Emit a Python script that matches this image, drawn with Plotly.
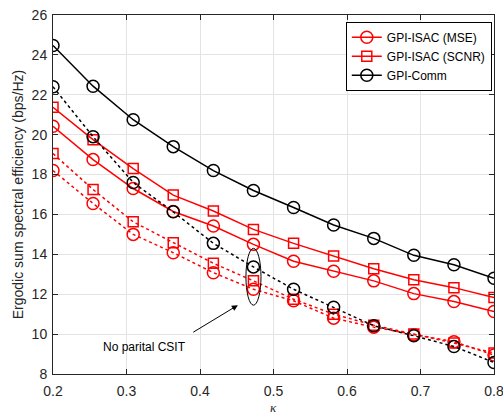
import plotly.graph_objects as go

# kappa sample points
kappa = [0.2, 0.2545, 0.3091, 0.3636, 0.4182, 0.4727, 0.5273, 0.5818, 0.6364, 0.6909, 0.7455, 0.8]

# Ergodic sum spectral efficiency (bps/Hz), with partial CSIT
isac_mse = [20.42, 18.75, 17.3, 16.15, 15.42, 14.5, 13.65, 13.15, 12.67, 12.03, 11.63, 11.13]
isac_scnr = [21.37, 19.75, 18.3, 16.97, 16.17, 15.25, 14.55, 13.92, 13.28, 12.73, 12.33, 11.83]
comm = [24.47, 22.43, 20.75, 19.4, 18.2, 17.2, 16.35, 15.47, 14.8, 13.95, 13.48, 12.8]

# Same schemes without partial CSIT
isac_mse_nocsit = [18.2, 16.55, 15.0, 14.08, 13.08, 12.25, 11.67, 10.8, 10.35, 9.97, 9.62, 8.95]
isac_scnr_nocsit = [19.05, 17.25, 15.63, 14.58, 13.55, 12.67, 11.75, 11.0, 10.45, 10.0, 9.55, 9.05]
comm_nocsit = [22.4, 19.9, 17.6, 16.13, 14.55, 13.37, 12.25, 11.35, 10.42, 9.92, 9.38, 8.58]

RED = "#ff0000"
BLACK = "#000000"

fig = go.Figure()

def add(y, name, color, symbol, dash, show):
    size = 10 if symbol.startswith("square") else 12
    fig.add_trace(go.Scatter(
        x=kappa, y=y, name=name, mode="lines+markers",
        line=dict(color=color, width=1.5, dash=dash),
        marker=dict(symbol=symbol, size=size, color=color,
                    line=dict(color=color, width=1.5)),
        showlegend=show,
    ))

add(isac_mse, "GPI-ISAC (MSE)", RED, "circle-open", "solid", True)
add(isac_scnr, "GPI-ISAC (SCNR)", RED, "square-open", "solid", True)
add(comm, "GPI-Comm", BLACK, "circle-open", "solid", True)
add(isac_mse_nocsit, "GPI-ISAC (MSE), no CSIT", RED, "circle-open", "dot", False)
add(isac_scnr_nocsit, "GPI-ISAC (SCNR), no CSIT", RED, "square-open", "dot", False)
add(comm_nocsit, "GPI-Comm, no CSIT", BLACK, "circle-open", "dot", False)

# Ellipse grouping the no-CSIT curves
fig.add_shape(type="circle", xref="x", yref="y",
              x0=0.4625, x1=0.483, y0=11.45, y1=14.3,
              line=dict(color=BLACK, width=1))

fig.add_annotation(x=0.4515, y=11.45, ax=0.3888, ay=10.05,
                   xref="x", yref="y", axref="x", ayref="y",
                   showarrow=True, arrowhead=2, arrowsize=1.2, arrowwidth=1,
                   arrowcolor=BLACK, text="")
fig.add_annotation(x=0.325, y=9.35, xref="x", yref="y", showarrow=False,
                   text="No parital CSIT",
                   font=dict(family="Liberation Sans, Arial", size=12, color=BLACK))

# x-axis label (kappa) placed below the tick labels
fig.add_annotation(x=0.5, y=0, xref="paper", yref="paper", yshift=-33,
                   yanchor="middle", showarrow=False, text="<i>κ</i>",
                   font=dict(family="Liberation Serif, Times New Roman", size=13, color="#262626"))

axis_common = dict(
    showline=True, linecolor="#262626", linewidth=1, mirror="ticks",
    ticks="inside", ticklen=5, tickcolor="#262626",
    showgrid=True, gridcolor="#e3e3e3", gridwidth=1,
    zeroline=False, automargin=False, ticklabeloverflow="allow",
    tickfont=dict(family="Liberation Sans, Arial", size=14, color="#262626"),
)

fig.update_xaxes(range=[0.2, 0.8], tickvals=[0.2, 0.3, 0.4, 0.5, 0.6, 0.7, 0.8],
                 ticktext=["0.2", "0.3", "0.4", "0.5", "0.6", "0.7", "0.8"],
                 ticklabelstandoff=4,
                 **axis_common)
fig.update_yaxes(range=[8, 26], tickvals=list(range(8, 27, 2)),
                 ticklabelstandoff=2,
                 title=dict(text="Ergodic sum spectral efficiency (bps/Hz)", standoff=4,
                            font=dict(family="Liberation Sans, Arial", size=14, color="#262626")),
                 **axis_common)

fig.update_layout(
    width=503, height=415,
    margin=dict(l=53, r=9, t=15, b=41),
    plot_bgcolor="white", paper_bgcolor="white",
    legend=dict(x=0.995, y=0.981, xanchor="right", yanchor="top",
                bgcolor="white", bordercolor=BLACK, borderwidth=1,
                font=dict(family="Liberation Sans, Arial", size=12, color=BLACK),
                tracegroupgap=0, itemwidth=30),
)

fig.write_html("out.html")
